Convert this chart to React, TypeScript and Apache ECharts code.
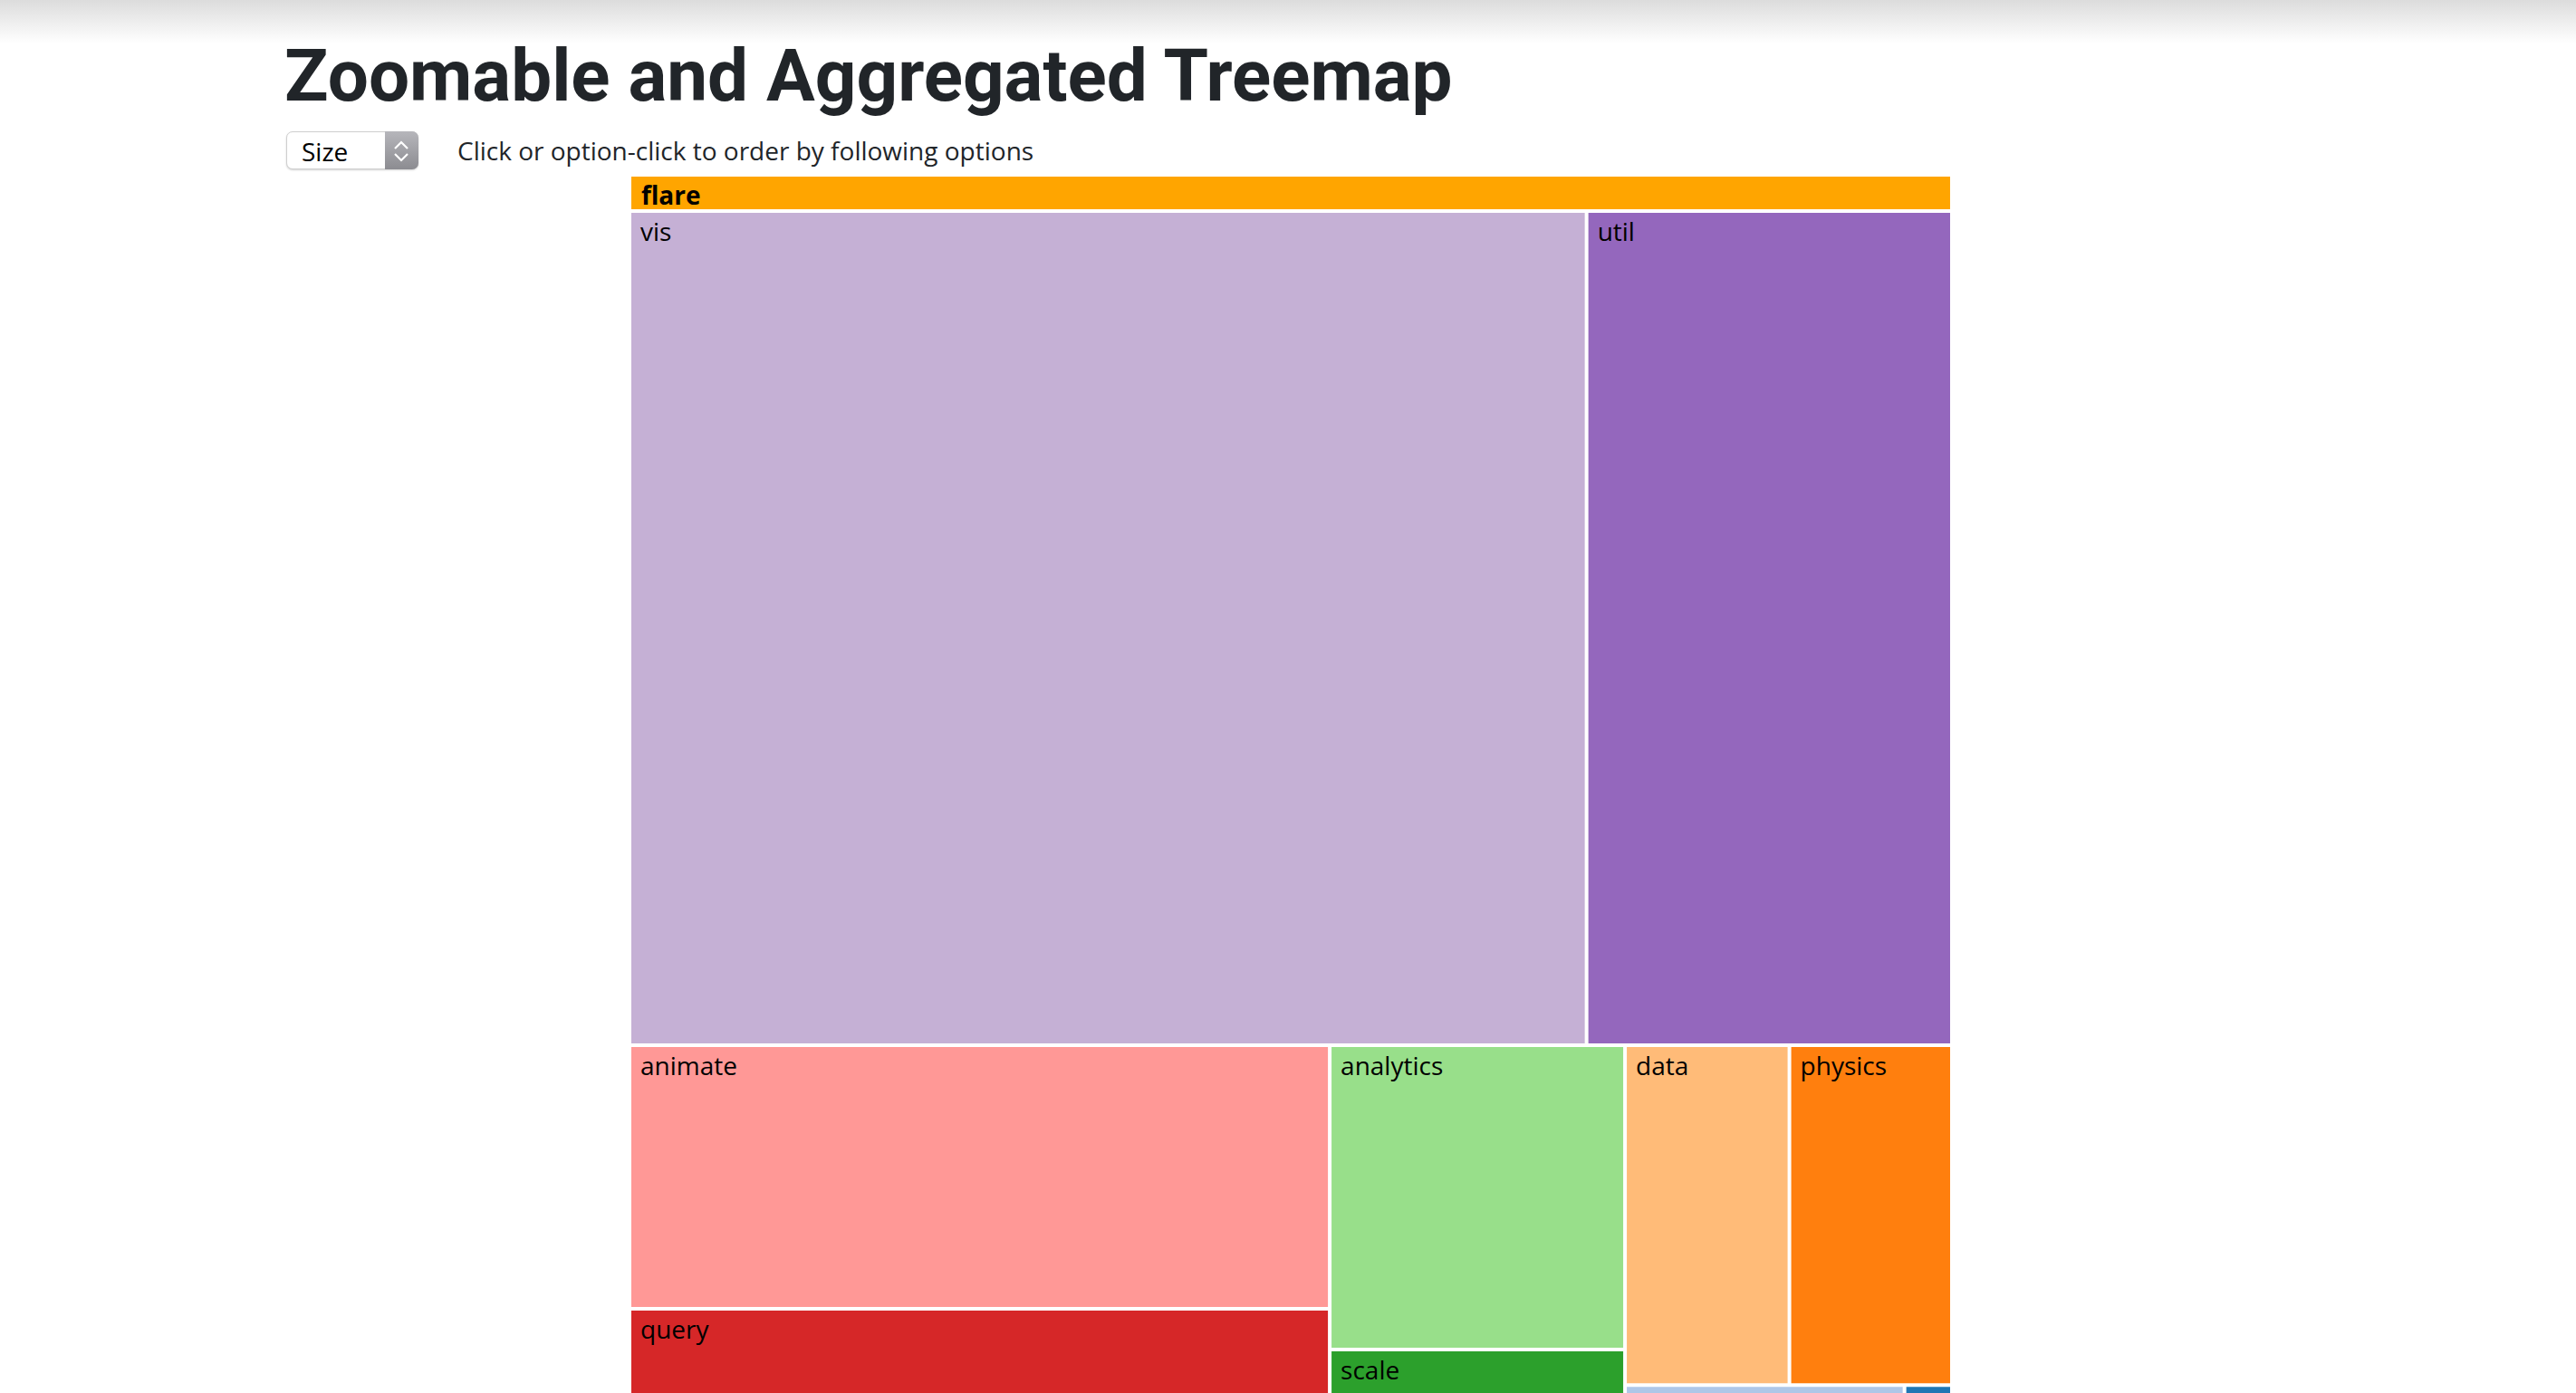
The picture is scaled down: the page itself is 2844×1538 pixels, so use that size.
import React, { useEffect, useRef } from "react";
import * as echarts from "echarts";

// ---- data ----
const rootName = "flare";
const categories = ["vis", "util", "animate", "query", "analytics", "scale", "data", "physics", "display", "flex"];
const sizes = [432629, 165157, 100024, 89721, 48716, 31294, 30284, 29934, 24254, 4116];
const palette = ["#c5b0d5", "#9467bd", "#ff9896", "#d62728", "#98df8a", "#2ca02c", "#ffbb78", "#ff7f0e", "#aec7e8", "#1f77b4"];
const rootColor = "#ffa500";
const titleText = "Zoomable and Aggregated Treemap";
const sortLabel = "Size";
const hintText = "Click or option-click to order by following options";

const FONT = "'Open Sans', 'Noto Sans', sans-serif";

export default function App() {
  const ref = useRef<HTMLDivElement>(null);

  useEffect(() => {
    if (!ref.current) return;
    const chart = echarts.init(ref.current, undefined, { renderer: "svg" });
    const headerBg = {
      type: "linear",
      x: 0,
      y: 0,
      x2: 0,
      y2: 1,
      colorStops: [
        { offset: 0, color: rootColor },
        { offset: 0.9, color: rootColor },
        { offset: 0.9, color: "#ffffff" },
        { offset: 1, color: "#ffffff" },
      ],
    };
    chart.setOption({
      animation: false,
      tooltip: { show: false },
      series: [
        {
          type: "treemap",
          left: 697,
          top: 195,
          width: 1456,
          height: 1509,
          roam: false,
          nodeClick: false,
          breadcrumb: { show: false },
          sort: "desc",
          squareRatio: 0.5 * (1 + Math.sqrt(5)),
          visibleMin: 0,
          emphasis: { disabled: true },
          itemStyle: { borderWidth: 0, gapWidth: 0, borderColor: "#fff" },
          label: {
            show: true,
            position: "insideTopLeft",
            align: "left",
            verticalAlign: "top",
            color: "#000",
            fontSize: 28,
            fontFamily: FONT,
            padding: [6, 10, 0, 10],
          },
          upperLabel: { show: false },
          data: [
            {
              name: rootName,
              itemStyle: { gapWidth: 4, borderWidth: 0, borderColor: "#fff", color: rootColor },
              upperLabel: {
                show: true,
                height: 40,
                color: "#000",
                fontSize: 28,
                fontWeight: "bold",
                fontFamily: FONT,
                align: "left",
                verticalAlign: "middle",
                padding: [2, 0, 0, 11],
                backgroundColor: headerBg,
              },
              children: categories.map((name, i) => ({
                name,
                value: sizes[i],
                itemStyle: { color: palette[i] },
              })),
            },
          ],
        },
      ],
    });
    return () => chart.dispose();
  }, []);

  return (
    <div
      style={{
        position: "fixed",
        left: 0,
        top: 0,
        width: 2844,
        height: 1538,
        overflow: "hidden",
        background: "#fff",
      }}
    >
      <div
        style={{
          position: "absolute",
          left: 0,
          top: 0,
          width: "100%",
          height: 48,
          background: "linear-gradient(to bottom, rgb(220,220,220), rgba(255,255,255,0))",
        }}
      />
      <div
        ref={ref}
        style={{ position: "absolute", left: 0, top: 0, width: 2844, height: 1720 }}
      />
      <div
        style={{
          position: "absolute",
          left: 314,
          top: 44,
          fontFamily: "Roboto, sans-serif",
          fontWeight: 700,
          fontSize: 80,
          lineHeight: "80px",
          color: "#212529",
          whiteSpace: "nowrap",
        }}
      >
        {titleText}
      </div>
      <div
        style={{
          position: "absolute",
          left: 316,
          top: 145,
          width: 146,
          height: 42,
          boxSizing: "border-box",
          border: "1px solid #cfcfcf",
          borderRadius: 7,
          background: "#fff",
          boxShadow: "0 1px 2px rgba(0,0,0,0.18)",
        }}
      >
        <div
          style={{
            position: "absolute",
            left: 16,
            top: 7,
            fontFamily: FONT,
            fontSize: 28,
            lineHeight: "28px",
            color: "#000",
          }}
        >
          {sortLabel}
        </div>
        <div
          style={{
            position: "absolute",
            right: -1,
            top: -1,
            width: 37,
            height: 42,
            borderTopRightRadius: 7,
            borderBottomRightRadius: 7,
            background: "linear-gradient(to bottom, #b6b6bb, #8c8c91)",
          }}
        >
          <svg width="37" height="42" viewBox="0 0 37 42" style={{ display: "block" }}>
            <polyline points="11,19 18,12 25,19" fill="none" stroke="#fff" strokeWidth="2.2" />
            <polyline points="11,25 18,32 25,25" fill="none" stroke="#fff" strokeWidth="2.2" />
          </svg>
        </div>
      </div>
      <div
        style={{
          position: "absolute",
          left: 505,
          top: 152,
          fontFamily: FONT,
          fontSize: 28,
          lineHeight: "28px",
          color: "#212529",
          whiteSpace: "nowrap",
        }}
      >
        {hintText}
      </div>
    </div>
  );
}
